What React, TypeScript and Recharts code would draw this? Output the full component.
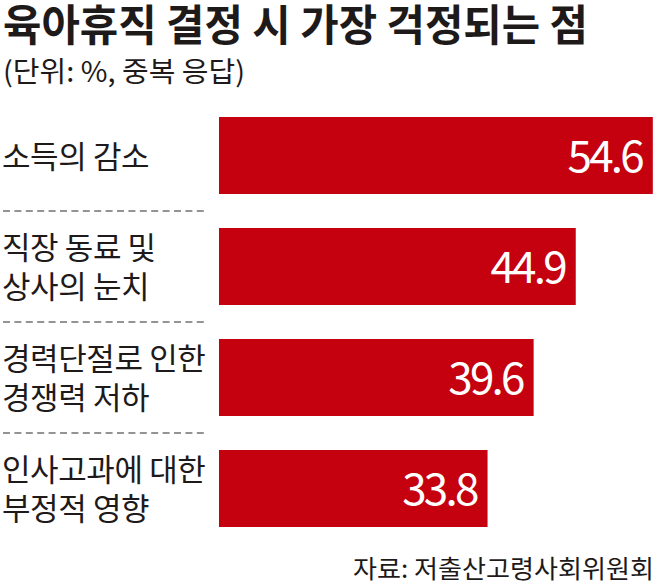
import React from 'react'
import { Bar, BarChart, LabelList, XAxis, YAxis } from 'recharts'

const categories = [
  ['소득의 감소'],
  ['직장 동료 및', '상사의 눈치'],
  ['경력단절로 인한', '경쟁력 저하'],
  ['인사고과에 대한', '부정적 영향'],
]
const shares = [54.6, 44.9, 39.6, 33.8]

const title = '육아휴직 결정 시 가장 걱정되는 점'
const unitNote = '(단위: %, 중복 응답)'
const sourceNote = '자료: 저출산고령사회위원회'

const data = categories.map((lines, i) => ({
  name: lines.join(' '),
  lines,
  value: shares[i],
}))

const FONT = '"Noto Sans CJK KR", "Noto Sans", sans-serif'
const INK = '#1e1a1a'
const RED = '#c5000f'

const CategoryTick = (props: any) => {
  const { y, payload, index, visibleTicksCount } = props
  const lines: string[] = data[index]?.lines ?? [String(payload.value)]
  const half = payload.offset || 55.5
  const lineGap = 39
  const first = y + 12 - ((lines.length - 1) * lineGap) / 2
  return (
    <g>
      <text
        x={2}
        y={first}
        fill={INK}
        fontFamily={FONT}
        fontSize={31}
        letterSpacing={-0.4}
        textAnchor="start"
      >
        {lines.map((line, i) => (
          <tspan key={i} x={2} y={first + i * lineGap}>
            {line}
          </tspan>
        ))}
      </text>
      {index < visibleTicksCount - 1 && (
        <line
          x1={3}
          x2={208}
          y1={y + half}
          y2={y + half}
          stroke="#2a2a2a"
          strokeWidth={1.2}
          strokeDasharray="7 4.4"
        />
      )}
    </g>
  )
}

const ValueLabel = (props: any) => {
  const { x, y, width, height, value } = props
  return (
    <text
      x={x + width - 11}
      y={y + height / 2 + 16}
      fill="#fff"
      fontFamily={FONT}
      fontSize={44}
      letterSpacing={-2.8}
      textAnchor="end"
    >
      {value}
    </text>
  )
}

export default function App() {
  return (
    <div
      style={{
        position: 'absolute',
        left: 0,
        top: 0,
        width: 658,
        height: 587,
        background: '#fff',
      }}
    >
      <svg
        width={658}
        height={587}
        style={{ position: 'absolute', left: 0, top: 0 }}
      >
        <text
          x={3}
          y={41}
          fill={INK}
          fontFamily={FONT}
          fontWeight={700}
          fontSize={43}
          textLength={585}
          lengthAdjust="spacingAndGlyphs"
        >
          {title}
        </text>
        <text
          x={3}
          y={82}
          fill={INK}
          fontFamily={FONT}
          fontSize={28}
          textLength={242}
          lengthAdjust="spacingAndGlyphs"
        >
          {unitNote}
        </text>
        <text
          x={654}
          y={578}
          fill={INK}
          fontFamily={FONT}
          fontSize={25}
          textAnchor="end"
          textLength={301}
          lengthAdjust="spacingAndGlyphs"
        >
          {sourceNote}
        </text>
      </svg>
      <div style={{ position: 'absolute', left: 0, top: 0 }}>
        <BarChart
          width={658}
          height={587}
          data={data}
          layout="vertical"
          margin={{ top: 100, right: 2, bottom: 43, left: 0 }}
        >
          <XAxis type="number" domain={[0, 55]} hide />
          <YAxis
            type="category"
            dataKey="name"
            width={219}
            axisLine={false}
            tickLine={false}
            tick={<CategoryTick />}
            interval={0}
          />
          <Bar dataKey="value" fill={RED} barSize={77} isAnimationActive={false}>
            <LabelList dataKey="value" content={<ValueLabel />} />
          </Bar>
        </BarChart>
      </div>
    </div>
  )
}
